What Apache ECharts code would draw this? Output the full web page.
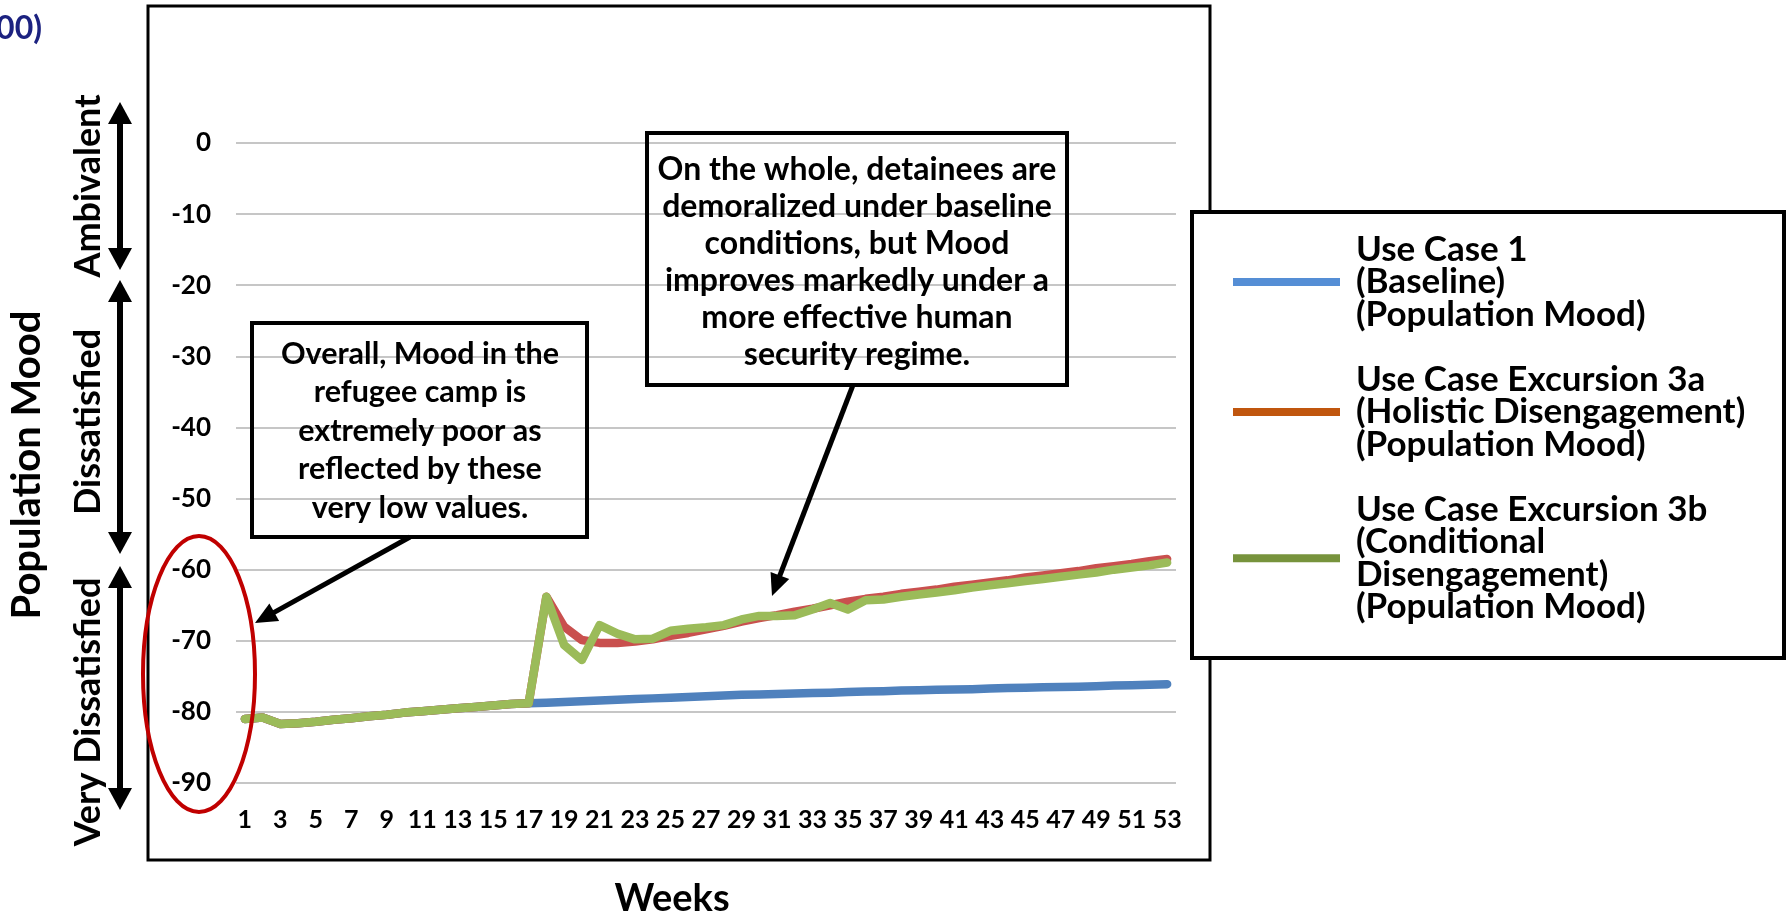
<!DOCTYPE html>
<html>
<head>
<meta charset="utf-8">
<script src="https://cdn.jsdelivr.net/npm/echarts@6/dist/echarts.min.js"></script>
<style>
html,body{margin:0;padding:0;background:#fff;}
#chart{width:1789px;height:919px;}
</style>
</head>
<body>
<div id="chart"></div>
<script>
// ---- data ----
const weeks = ['1','2','3','4','5','6','7','8','9','10','11','12','13','14','15','16','17','18','19','20',
  '21','22','23','24','25','26','27','28','29','30','31','32','33','34','35','36','37','38','39','40',
  '41','42','43','44','45','46','47','48','49','50','51','52','53'];

const baseline = [-81.0,-80.8,-81.7,-81.6,-81.4,-81.1,-80.9,-80.6,-80.4,-80.1,-79.9,-79.7,-79.5,-79.3,-79.1,-78.9,-78.8,
  -78.7,-78.6,-78.5,-78.4,-78.3,-78.2,-78.1,-78.0,-77.9,-77.8,-77.7,-77.6,-77.55,-77.5,-77.4,-77.35,-77.3,-77.2,-77.15,-77.1,
  -77.0,-76.95,-76.9,-76.85,-76.8,-76.7,-76.65,-76.6,-76.55,-76.5,-76.45,-76.4,-76.3,-76.25,-76.2,-76.1];

const holistic = [-81.0,-80.8,-81.7,-81.6,-81.4,-81.1,-80.9,-80.6,-80.4,-80.1,-79.9,-79.7,-79.5,-79.3,-79.1,-78.9,-78.8,
  -63.8,-68.0,-69.9,-70.3,-70.3,-70.1,-69.8,-69.3,-68.9,-68.4,-67.9,-67.3,-66.8,-66.4,-65.9,-65.5,-65.0,-64.5,-64.1,-63.8,
  -63.4,-63.1,-62.8,-62.4,-62.1,-61.8,-61.5,-61.1,-60.8,-60.5,-60.2,-59.8,-59.5,-59.2,-58.8,-58.5];

const conditional = [-81.0,-80.8,-81.7,-81.6,-81.4,-81.1,-80.9,-80.6,-80.4,-80.1,-79.9,-79.7,-79.5,-79.3,-79.1,-78.9,-78.8,
  -63.8,-70.6,-72.7,-67.8,-69.0,-69.8,-69.7,-68.6,-68.3,-68.1,-67.8,-67.0,-66.5,-66.5,-66.4,-65.6,-64.7,-65.6,-64.3,-64.2,
  -63.8,-63.5,-63.2,-62.9,-62.5,-62.2,-61.9,-61.6,-61.3,-61.0,-60.7,-60.4,-60.0,-59.7,-59.4,-59.0];

const seriesNames = [
  'Use Case 1\n(Baseline)\n(Population Mood)',
  'Use Case Excursion 3a\n(Holistic Disengagement)\n(Population Mood)',
  'Use Case Excursion 3b\n(Conditional\nDisengagement)\n(Population Mood)'
];
const lineColors = ['#4F81BD', '#C9504E', '#9BBB59'];
const legendColors = ['#558ED5', '#C0560E', '#77933C'];

const note1 = 'Overall, Mood in the\nrefugee camp is\nextremely poor as\nreflected by these\nvery low values.';
const note2 = 'On the whole, detainees are\ndemoralized under baseline\nconditions, but Mood\nimproves markedly under a\nmore effective human\nsecurity regime.';

// ---- helpers ----
const FF = 'Lato';
function arrowEls(x1, y1, x2, y2, lw, hl, hw, both) {
  const dx = x2 - x1, dy = y2 - y1, L = Math.hypot(dx, dy);
  const ux = dx / L, uy = dy / L, px = -uy, py = ux;
  const els = [];
  const sx = both ? x1 + ux * hl * 0.9 : x1, sy = both ? y1 + uy * hl * 0.9 : y1;
  const ex = x2 - ux * hl * 0.9, ey = y2 - uy * hl * 0.9;
  els.push({type: 'line', z: 100, shape: {x1: sx, y1: sy, x2: ex, y2: ey}, style: {stroke: '#000', lineWidth: lw}});
  const head = (tx, ty, vx, vy) => ({
    type: 'polygon', z: 100,
    shape: {points: [[tx, ty],
      [tx - vx * hl + px * hw / 2, ty - vy * hl + py * hw / 2],
      [tx - vx * hl - px * hw / 2, ty - vy * hl - py * hw / 2]]},
    style: {fill: '#000'}
  });
  els.push(head(x2, y2, ux, uy));
  if (both) els.push(head(x1, y1, -ux, -uy));
  return els;
}
function vtext(text, x, y, size) {
  return {type: 'text', z: 100, x: x, y: y, rotation: Math.PI / 2,
    style: {text: text, fill: '#000', fontFamily: FF, fontWeight: 'bold', fontSize: size,
      align: 'center', verticalAlign: 'middle'}};
}

const graphics = [
  // outer plot-area border
  {type: 'rect', z: 90, shape: {x: 148, y: 6, width: 1062, height: 854}, style: {fill: 'none', stroke: '#000', lineWidth: 3}},
  // legend border
  {type: 'rect', z: 90, shape: {x: 1192, y: 212, width: 592, height: 446}, style: {fill: '#fff', stroke: '#000', lineWidth: 4}},
  // top-left clipped title fragment
  {type: 'text', z: 100, x: 42, y: 29, style: {text: '(-100 to +100)', fill: '#1C2280', fontFamily: FF, fontWeight: 'bold',
    fontSize: 32, align: 'right', verticalAlign: 'middle'}},
  // axis titles
  vtext('Population Mood', 27, 465, 40),
  {type: 'text', z: 100, x: 672, y: 899, style: {text: 'Weeks', fill: '#000', fontFamily: FF, fontWeight: 'bold',
    fontSize: 38, align: 'center', verticalAlign: 'middle'}},
  // mood-band labels
  vtext('Ambivalent', 88, 186, 36),
  vtext('Dissatisfied', 88, 422, 36),
  vtext('Very Dissatisfied', 88, 712, 36),
  // annotation boxes
  {type: 'rect', z: 100, shape: {x: 252, y: 323, width: 335, height: 214}, style: {fill: 'none', stroke: '#000', lineWidth: 4}},
  {type: 'text', z: 100, x: 420, y: 431, style: {text: note1, fill: '#000', fontFamily: FF, fontWeight: 'bold',
    fontSize: 30.5, lineHeight: 38.5, align: 'center', verticalAlign: 'middle'}},
  {type: 'rect', z: 100, shape: {x: 647, y: 133, width: 420, height: 252}, style: {fill: 'none', stroke: '#000', lineWidth: 4}},
  {type: 'text', z: 100, x: 857, y: 262, style: {text: note2, fill: '#000', fontFamily: FF, fontWeight: 'bold',
    fontSize: 32, lineHeight: 37, align: 'center', verticalAlign: 'middle'}},
  // red ellipse
  {type: 'ellipse', z: 100, shape: {cx: 199, cy: 674, rx: 56, ry: 138}, style: {fill: 'none', stroke: '#C00000', lineWidth: 4}}
]
  .concat(arrowEls(120, 102, 120, 270, 6, 22, 24, true))
  .concat(arrowEls(120, 280, 120, 554, 6, 22, 24, true))
  .concat(arrowEls(120, 566, 120, 810, 6, 22, 24, true))
  .concat(arrowEls(410, 537, 255, 623, 5, 22, 20, false))
  .concat(arrowEls(853, 385, 772, 596, 5, 22, 20, false));

const chart = echarts.init(document.getElementById('chart'), null, {renderer: 'canvas'});
const dataSets = [baseline, holistic, conditional];
chart.setOption({
  animation: false,
  backgroundColor: '#fff',
  grid: {left: 236, right: 613, top: 143, bottom: 136, containLabel: false},
  xAxis: {
    type: 'category', data: weeks, boundaryGap: true,
    axisLine: {show: false}, axisTick: {show: false},
    axisLabel: {interval: 1, margin: 24, color: '#000', fontFamily: FF, fontWeight: 'bold', fontSize: 25}
  },
  yAxis: {
    type: 'value', min: -90, max: 0, interval: 10,
    axisLine: {show: false}, axisTick: {show: false},
    axisLabel: {margin: 25, color: '#000', fontFamily: FF, fontWeight: 'bold', fontSize: 26},
    splitLine: {show: true, lineStyle: {color: '#B3B3B3', width: 1.5}}
  },
  legend: {
    orient: 'vertical', left: 1228, top: 227, itemWidth: 107, itemHeight: 8, itemGap: 30,
    icon: 'rect', selectedMode: false, z: 95,
    textStyle: {color: '#000', fontFamily: FF, fontWeight: 'bold', fontSize: 35, lineHeight: 32.5, padding: [0, 0, 0, 11]},
    data: seriesNames.map((n, i) => ({name: n, itemStyle: {color: legendColors[i], borderWidth: 0}}))
  },
  series: dataSets.map((d, i) => ({
    name: seriesNames[i], type: 'line', data: d, symbol: 'none', smooth: false,
    itemStyle: {color: lineColors[i]},
    lineStyle: {color: lineColors[i], width: 8.5, cap: 'round', join: 'round'},
    z: 2 + i
  })),
  graphic: graphics
});
</script>
</body>
</html>
